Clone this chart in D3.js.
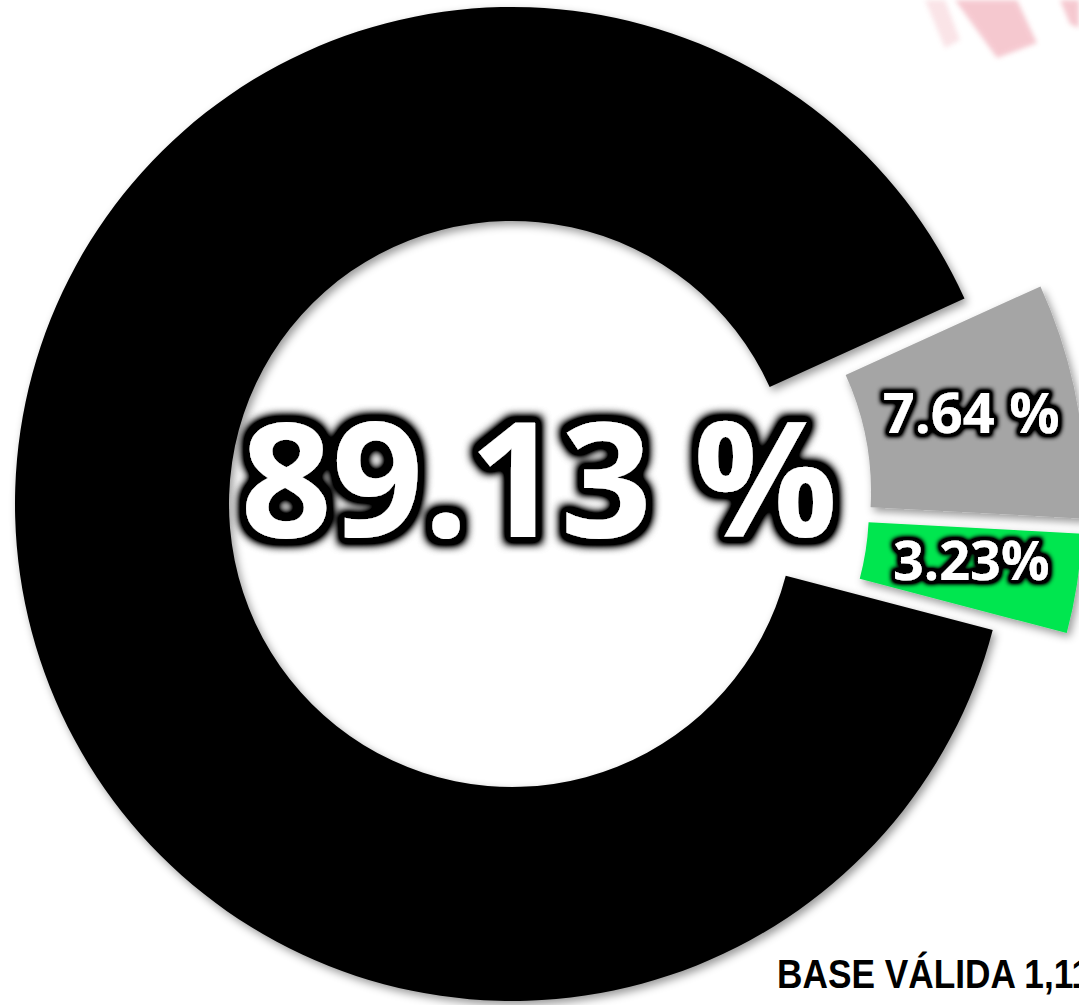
<!DOCTYPE html>
<html>
<head>
<meta charset="utf-8">
<script src="https://cdn.jsdelivr.net/npm/d3@7"></script>
<style>
  body { margin: 0; background: #fff; }
  svg { display: block; }
  .lbl { font-family: "Open Sans", Lato, sans-serif; font-weight: 700; fill: #fff; }
  .base { font-family: "Liberation Sans Narrow", "Liberation Sans", sans-serif; font-weight: 700; fill: #000; }
</style>
</head>
<body>
<svg class="chart"></svg>
<script>
const categories = ["A", "B", "C"];
const values = [89.13, 7.64, 3.23];
const labels = ["89.13 %", "7.64 %", "3.23%"];
const colors = ["#000000", "#a5a5a5", "#00e64f"];
const baseText = "BASE VÁLIDA 1,11";

const width = 1079, height = 1005;
const cx = 512, cy = 504;
const rIn = 283, rOut = 497;
// exploded slices, pushed outward
const offsets = [[0, 0], [76, -12], [74, 3]];
const fontSizes = [160, 56, 54];

const svg = d3.select('.chart')
    .attr('width', width)
    .attr('height', height);

const defs = svg.append('defs');

const shadow = defs.append('filter')
    .attr('id', 'shadow')
    .attr('x', '-10%').attr('y', '-10%')
    .attr('width', '130%').attr('height', '130%');
shadow.append('feDropShadow')
    .attr('dx', 3).attr('dy', 4)
    .attr('stdDeviation', 4)
    .attr('flood-color', '#000')
    .attr('flood-opacity', 0.4);

const glow = defs.append('filter')
    .attr('id', 'glow')
    .attr('x', '-20%').attr('y', '-30%')
    .attr('width', '140%').attr('height', '160%');
glow.append('feMorphology')
    .attr('in', 'SourceAlpha')
    .attr('operator', 'dilate')
    .attr('radius', 6)
    .attr('result', 'fat');
glow.append('feGaussianBlur')
    .attr('in', 'fat')
    .attr('stdDeviation', 5)
    .attr('result', 'blur');
glow.append('feComponentTransfer')
    .attr('in', 'blur')
    .attr('result', 'dark')
    .append('feFuncA')
    .attr('type', 'linear')
    .attr('slope', 2);
const merge = glow.append('feMerge');
merge.append('feMergeNode').attr('in', 'dark');
merge.append('feMergeNode').attr('in', 'SourceGraphic');

const glowSmall = defs.append('filter')
    .attr('id', 'glowSmall')
    .attr('x', '-20%').attr('y', '-40%')
    .attr('width', '140%').attr('height', '180%');
glowSmall.append('feMorphology')
    .attr('in', 'SourceAlpha')
    .attr('operator', 'dilate')
    .attr('radius', 3)
    .attr('result', 'fat');
glowSmall.append('feGaussianBlur')
    .attr('in', 'fat')
    .attr('stdDeviation', 2.5)
    .attr('result', 'blur');
glowSmall.append('feComponentTransfer')
    .attr('in', 'blur')
    .attr('result', 'dark')
    .append('feFuncA')
    .attr('type', 'linear')
    .attr('slope', 2);
const merge2 = glowSmall.append('feMerge');
merge2.append('feMergeNode').attr('in', 'dark');
merge2.append('feMergeNode').attr('in', 'SourceGraphic');

const soft = defs.append('filter').attr('id', 'soft');
soft.append('feGaussianBlur').attr('stdDeviation', 2.5);

// faint red stamp in the corner
const stamp = svg.append('g')
    .attr('filter', 'url(#soft)')
    .attr('opacity', 0.4)
    .attr('fill', '#e8788a');
stamp.append('path').attr('d', 'M955,0 L1017,0 L1037,43 L997,58 Z');
stamp.append('path').attr('d', 'M925,0 L945,0 L960,40 L945,48 Z').attr('opacity', 0.5);
stamp.append('path').attr('d', 'M1060,0 L1079,0 L1079,28 L1070,24 Z');

const pie = d3.pie()
    .sort(null)
    .value(d => d)
    .startAngle(104.7 * Math.PI / 180)
    .endAngle(104.7 * Math.PI / 180 + 2 * Math.PI);

const arc = d3.arc()
    .innerRadius(rIn)
    .outerRadius(rOut);

const arcs = pie(values);

const g = svg.append('g')
    .attr('transform', `translate(${cx},${cy})`);

g.selectAll('path.slice')
    .data(arcs)
    .enter()
    .append('path')
    .attr('class', 'slice')
    .attr('transform', (d, i) => `translate(${offsets[i][0]},${offsets[i][1]})`)
    .attr('d', arc)
    .attr('fill', (d, i) => colors[i])
    .attr('filter', 'url(#shadow)');

// big label sits in the hole, the small ones on their slices
g.selectAll('text.lbl')
    .data(arcs)
    .enter()
    .append('text')
    .attr('class', 'lbl')
    .attr('text-anchor', 'middle')
    .attr('filter', (d, i) => i === 0 ? 'url(#glow)' : 'url(#glowSmall)')
    .style('font-size', (d, i) => fontSizes[i] + 'px')
    .attr('x', (d, i) => i === 0 ? 27 : arc.centroid(d)[0] + offsets[i][0])
    .attr('y', (d, i) => i === 0 ? 33 : arc.centroid(d)[1] + offsets[i][1] + 0.36 * fontSizes[i] - 7)
    .text((d, i) => labels[i]);

svg.append('text')
    .attr('class', 'base')
    .attr('transform', 'translate(777,988) scale(0.86,1)')
    .style('font-size', '41px')
    .text(baseText);
</script>
</body>
</html>
